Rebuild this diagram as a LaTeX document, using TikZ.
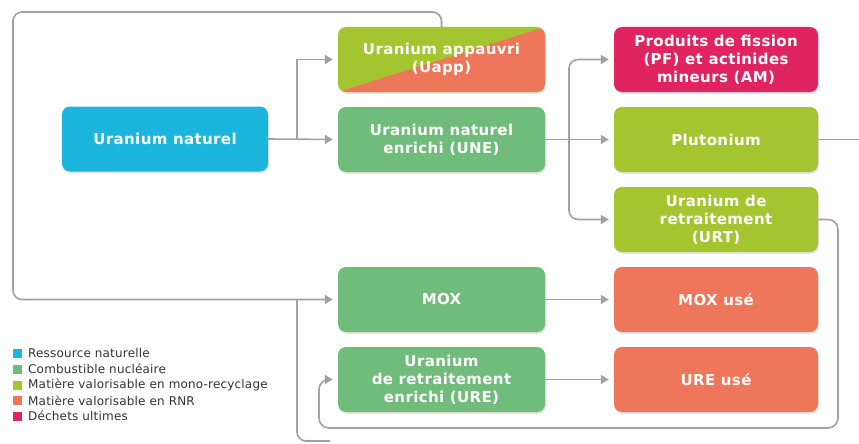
\documentclass[tikz,border=0pt]{standalone}
\usepackage{fontspec}
\setmainfont{DejaVu Sans}
\usetikzlibrary{arrows.meta,shadows}
\definecolor{cblue}{HTML}{1BB5DD}
\definecolor{cgreen}{HTML}{70BD7B}
\definecolor{clime}{HTML}{A3C52F}
\definecolor{corange}{HTML}{EE765A}
\definecolor{cpink}{HTML}{DF2461}
\definecolor{cline}{HTML}{A89DA3}
\definecolor{ctext}{HTML}{333333}
\begin{document}
\begin{tikzpicture}[x=1pt,y=-1pt,
  box/.style={rounded corners=8pt, minimum width=206pt, minimum height=65pt, text=white, align=center,
    font=\fontsize{15}{18}\selectfont\bfseries\addfontfeature{LetterSpace=2.5}, inner sep=0pt,
    drop shadow={shadow xshift=0.8pt, shadow yshift=-1.8pt, opacity=0.22}},
  conn/.style={draw=cline, line width=1.6pt},
  arr/.style={conn, -{Triangle[length=8pt,width=9pt]}, shorten >=5pt},
  legbox/.style={minimum size=9pt, inner sep=0pt},
  legtext/.style={anchor=west, font=\fontsize{12}{13}\selectfont\addfontfeature{LetterSpace=1.5}, text=ctext, inner sep=0pt}]
\useasboundingbox (0,0) rectangle (859,444);
\fill[white] (0,0) rectangle (859,444);

% boxes
\node[box, fill=cblue] (un) at (165,139) {Uranium naturel};
\node[box, fill=clime, minimum width=207pt,
  path picture={\fill[corange] (path picture bounding box.south west) -- (path picture bounding box.south east) -- (path picture bounding box.north east) -- cycle;}]
  (uapp) at (441.5,59.5) {Uranium appauvri\\(Uapp)};
\node[box, fill=cgreen, minimum width=207pt] (une) at (441.5,139.5) {Uranium naturel\\enrichi (UNE)};
\node[box, fill=cgreen, minimum width=207pt] (mox) at (441.5,299.5) {MOX};
\node[box, fill=cgreen, minimum width=207pt] (ure) at (441.5,379.5) {Uranium\\de retraitement\\enrichi (URE)};
\node[box, fill=cpink, minimum width=204pt] (pf) at (716,59.5) {Produits de fission\\(PF) et actinides\\mineurs (AM)};
\node[box, fill=clime, minimum width=204pt] (plu) at (716,139.5) {Plutonium};
\node[box, fill=clime, minimum width=204pt] (urt) at (716,219.5) {Uranium de\\retraitement\\(URT)};
\node[box, fill=corange, minimum width=204pt] (moxu) at (716,299.5) {MOX usé};
\node[box, fill=corange, minimum width=204pt] (ureu) at (716,379.5) {URE usé};

% junctions and free ends
\coordinate (j1) at (297,139.5);
\coordinate (j2) at (569,139.5);
\coordinate (j3) at (297,299.5);
\coordinate (lt) at (13,12);
\coordinate (bl) at (297,441);
\coordinate (be) at (330,441);
\coordinate (pe) at (859,139.5);
\coordinate (r1) at (838,428);
\coordinate (r2) at (319,428);

% connectors
\draw[arr] (un.east) -- (une.west);
\draw[arr] (j1) |- (uapp.west);
\draw[arr, rounded corners=9pt] (uapp.north) |- (lt) |- (mox.west);
\draw[conn, rounded corners=9pt] (j3) -- (bl) -- (be);
\draw[arr] (une.east) -- (plu.west);
\draw[arr, rounded corners=9pt] (j2) |- (pf.west);
\draw[arr, rounded corners=9pt] (j2) |- (urt.west);
\draw[conn] (plu.east) -- (pe);
\draw[arr] (mox.east) -- (moxu.west);
\draw[arr] (ure.east) -- (ureu.west);
\draw[arr, rounded corners=10pt] (urt.east) -| (r1) -- (r2) |- (ure.west);

% legend
\node[legbox, fill=cblue] (l1) at (17.5,353) {};
\node[legbox, fill=cgreen] (l2) at (17.5,369) {};
\node[legbox, fill=clime] (l3) at (17.5,385) {};
\node[legbox, fill=corange] (l4) at (17.5,400.5) {};
\node[legbox, fill=cpink] (l5) at (17.5,416) {};
\node[legtext] (t1) at (28,353) {Ressource naturelle};
\node[legtext] (t2) at (28,369) {Combustible nucléaire};
\node[legtext] (t3) at (28,385) {Matière valorisable en mono-recyclage};
\node[legtext] (t4) at (28,400.5) {Matière valorisable en RNR};
\node[legtext] (t5) at (28,416) {Déchets ultimes};
\end{tikzpicture}
\end{document}
